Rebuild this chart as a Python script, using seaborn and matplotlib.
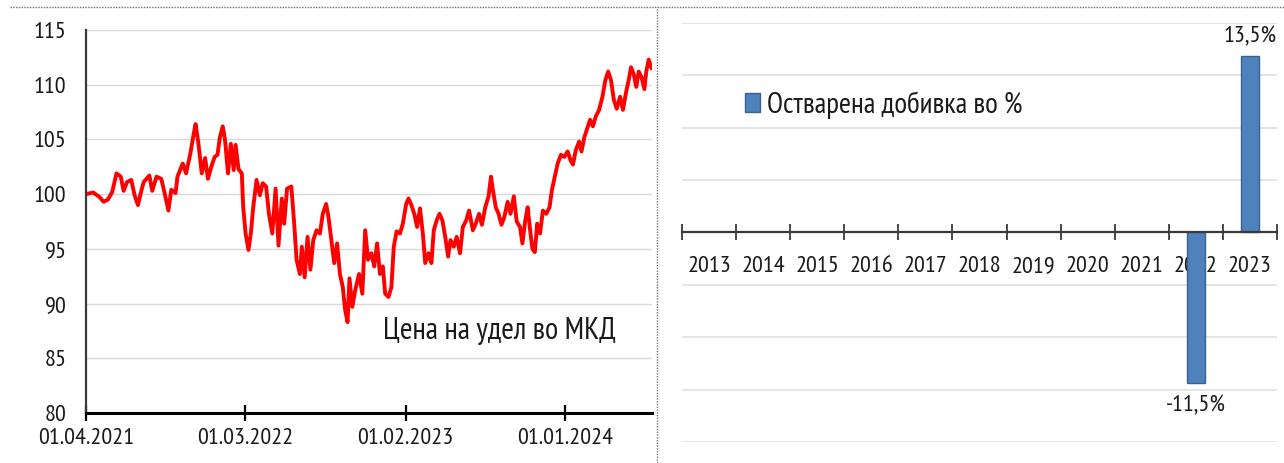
import numpy as np
import pandas as pd
import matplotlib
matplotlib.use("Agg")
import matplotlib.pyplot as plt
import seaborn as sns
from matplotlib.lines import Line2D

# ---------------- data ----------------
start_date = "2021-04-01"
day_offsets = [0, 15, 28, 37, 46, 55, 64, 73, 79, 86, 95, 102, 109, 115, 121, 133, 139, 148, 158, 165,
               173, 179, 188, 192, 203, 210, 219, 226, 230, 236, 243, 250, 256, 263, 270, 276, 281, 287, 292, 298,
               304, 310, 314, 320, 327, 330, 335, 341, 346, 351, 358, 365, 371, 378, 384, 391, 398, 404, 411, 416,
               422, 431, 437, 442, 449, 453, 459, 465, 471, 477, 484, 491, 497, 504, 509, 515, 521, 527, 533, 539,
               544, 549, 553, 559, 565, 573, 580, 586, 592, 599, 605, 611, 617, 623, 628, 635, 641, 646, 652, 659,
               665, 672, 677, 683, 689, 695, 701, 707, 712, 719, 725, 730, 736, 742, 748, 754, 760, 765, 772, 778,
               785, 791, 798, 804, 812, 818, 825, 831, 838, 845, 850, 854, 860, 866, 872, 878, 885, 891, 898, 904,
               911, 916, 922, 927, 933, 937, 942, 947, 953, 959, 966, 973, 978, 984, 990, 997, 1004, 1011, 1017, 1022,
               1028, 1035, 1040, 1046, 1052, 1058, 1064, 1070, 1077, 1084, 1090, 1096, 1102, 1108, 1114, 1121, 1127,
               1134, 1139, 1144, 1150, 1155, 1160, 1166, 1172, 1176, 1181, 1187]
unit_price = [100.0, 100.15, 99.75, 99.3, 99.5, 100.2, 101.9, 101.6, 100.3, 101.1, 101.3, 99.9, 99.0, 100.1, 101.1, 101.7, 100.3, 101.6, 101.4, 100.1,
              98.5, 100.4, 100.1, 101.6, 102.8, 101.9, 103.7, 105.5, 106.4, 104.6, 101.9, 103.3, 101.4, 102.5, 103.4, 103.6, 105.2, 106.2, 104.9, 101.9,
              104.6, 102.2, 104.5, 102.3, 101.9, 98.8, 96.4, 94.9, 96.4, 98.8, 101.3, 99.9, 101.0, 100.7, 98.2, 96.4, 100.5, 95.3, 99.6, 97.3,
              100.5, 100.7, 97.3, 94.0, 92.7, 95.2, 92.4, 96.1, 93.1, 95.8, 96.7, 96.4, 98.2, 99.1, 97.9, 95.8, 93.7, 95.5, 92.7, 91.5,
              89.4, 88.3, 92.3, 89.7, 91.2, 92.7, 90.9, 96.7, 94.0, 94.6, 93.4, 95.5, 92.7, 93.4, 90.9, 90.6, 91.5, 95.2, 96.6, 96.4,
              97.3, 99.1, 99.6, 99.0, 98.2, 97.0, 98.7, 96.4, 93.7, 94.6, 93.7, 96.7, 97.6, 98.2, 97.6, 96.1, 94.3, 95.8, 95.2, 96.1,
              94.6, 97.0, 97.6, 98.5, 96.7, 97.3, 98.2, 97.2, 98.8, 99.8, 101.6, 100.4, 98.8, 98.2, 97.2, 97.9, 99.3, 98.2, 99.8, 97.5,
              97.0, 95.5, 97.6, 98.8, 96.4, 95.0, 94.7, 97.3, 96.4, 98.5, 98.2, 98.8, 100.4, 101.6, 102.8, 103.6, 103.4, 103.9, 103.1, 102.7,
              104.0, 104.8, 103.9, 105.2, 106.0, 106.8, 106.2, 107.1, 107.7, 108.9, 110.4, 111.2, 110.4, 108.6, 107.8, 108.9, 107.7,
              109.4, 110.4, 111.6, 110.9, 109.8, 111.2, 110.7, 109.6, 111.2, 112.3, 111.5]

date_ticks = ["2021-04-01", "2022-03-01", "2023-02-01", "2024-01-01"]
date_tick_labels = ["01.04.2021", "01.03.2022", "01.02.2023", "01.01.2024"]
price_ticks = [80, 85, 90, 95, 100, 105, 110, 115]
price_label = "Цена на удел во МКД"

years = ["2013", "2014", "2015", "2016", "2017", "2018", "2019", "2020", "2021", "2022", "2023"]
return_years = ["2022", "2023"]
return_values = [-11.5, 13.5]
return_labels = ["-11,5%", "13,5%"]
return_legend = "Остварена добивка во %"
return_grid = [-16, -12, -8, -4, 0, 4, 8, 12, 16]

# ---------------- style ----------------
sns.set_theme(style="white")
plt.rcParams["font.family"] = ["PT Sans Narrow", "Roboto Condensed", "Liberation Sans", "DejaVu Sans"]
TXT = "#1a1a1a"
FS = 17.5

W, H = 1284, 463
fig = plt.figure(figsize=(W / 100, H / 100), dpi=100)
fig.patch.set_facecolor("white")

# ---------------- left panel: price line ----------------
ax1 = fig.add_axes([86 / W, 1 - 413 / H, (652 - 86) / W, (413 - 30) / H])
df_price = pd.DataFrame({
    "date": pd.Timestamp(start_date) + pd.to_timedelta(day_offsets, unit="D"),
    "price": unit_price,
})
sns.lineplot(data=df_price, x="date", y="price", ax=ax1, color="#FF0000", linewidth=2.8)
ax1.set_xlim(pd.Timestamp(start_date), pd.Timestamp(start_date) + pd.Timedelta(days=1188))
ax1.set_ylim(80, 115)
ax1.set_yticks(price_ticks)
ax1.set_yticklabels([str(v) for v in price_ticks])
ax1.set_xticks(pd.to_datetime(date_ticks))
ax1.set_xticklabels(date_tick_labels)
ax1.set_xlabel("")
ax1.set_ylabel("")
ax1.yaxis.grid(True, color="#D9D9D9", linewidth=1)
ax1.xaxis.grid(False)
for s in ["top", "right"]:
    ax1.spines[s].set_visible(False)
ax1.spines["left"].set_color("#3a3a3a")
ax1.spines["left"].set_linewidth(1.6)
ax1.spines["bottom"].set_color("black")
ax1.spines["bottom"].set_linewidth(2.2)
ax1.tick_params(axis="y", length=0, pad=14, labelsize=FS, labelcolor=TXT)
ax1.tick_params(axis="x", direction="inout", length=12, width=1.6, color="black",
                pad=5, labelsize=FS, labelcolor=TXT, bottom=True)
ax1.text(0.525, 0.215, price_label, transform=ax1.transAxes, fontsize=22,
         color=TXT, ha="left", va="center")

# ---------------- right panel: yearly returns ----------------
ax2 = fig.add_axes([682 / W, 1 - 442 / H, 595 / W, (442 - 23) / H])
df_ret = pd.DataFrame({"year": return_years, "ret": return_values})
sns.barplot(data=df_ret, x="year", y="ret", order=years, ax=ax2, color="#4F81BD",
            edgecolor="#3A6290", linewidth=1.0, width=0.33, saturation=1,
            label=return_legend)
ax2.set_xlim(-0.5, len(years) - 0.5)
ax2.set_ylim(-16, 16)
ax2.set_yticks(return_grid)
ax2.set_yticklabels([])
ax2.tick_params(axis="y", length=0)
ax2.yaxis.grid(True, color="#E3E3E3", linewidth=1.3)
ax2.xaxis.grid(False)
ax2.set_axisbelow(True)
ax2.set_xlabel("")
ax2.set_ylabel("")
for s in ["top", "right", "left"]:
    ax2.spines[s].set_visible(False)
ax2.spines["bottom"].set_position(("data", 0))
ax2.spines["bottom"].set_color("#3a3a3a")
ax2.spines["bottom"].set_linewidth(1.6)
ax2.spines["bottom"].set_zorder(5)
ax2.set_xticks(range(len(years)))
ax2.set_xticklabels(years)
ax2.set_xticks(np.arange(-0.5, len(years), 1.0), minor=True)
ax2.tick_params(axis="x", which="major", length=0, pad=17, labelsize=FS, labelcolor=TXT)
ax2.tick_params(axis="x", which="minor", direction="inout", length=12, width=1.3,
                color="#3a3a3a", bottom=True)

for yr, v, lab in zip(return_years, return_values, return_labels):
    xi = years.index(yr)
    if v >= 0:
        ax2.annotate(lab, (xi, v), xytext=(0, 6), textcoords="offset points",
                     ha="center", va="bottom", fontsize=FS, color=TXT)
    else:
        ax2.annotate(lab, (xi, v), xytext=(0, -9), textcoords="offset points",
                     ha="center", va="top", fontsize=FS, color=TXT)

ax2.legend(loc="center left", bbox_to_anchor=(0.106, 0.804), frameon=False,
           fontsize=21, handlelength=0.5, handleheight=0.6, handletextpad=0.25,
           borderpad=0, borderaxespad=0, labelcolor=TXT)

# ---------------- dotted frame decorations ----------------
fig.add_artist(Line2D([10 / W, 1.0], [1 - 7 / H, 1 - 7 / H], transform=fig.transFigure,
                      color="#6f6f6f", linestyle=(0, (1, 1)), linewidth=1))
fig.add_artist(Line2D([657 / W, 657 / W], [0, 1 - 7 / H], transform=fig.transFigure,
                      color="#6f6f6f", linestyle=(0, (1, 1)), linewidth=1))

fig.savefig("out.png", dpi=100, facecolor="white")
